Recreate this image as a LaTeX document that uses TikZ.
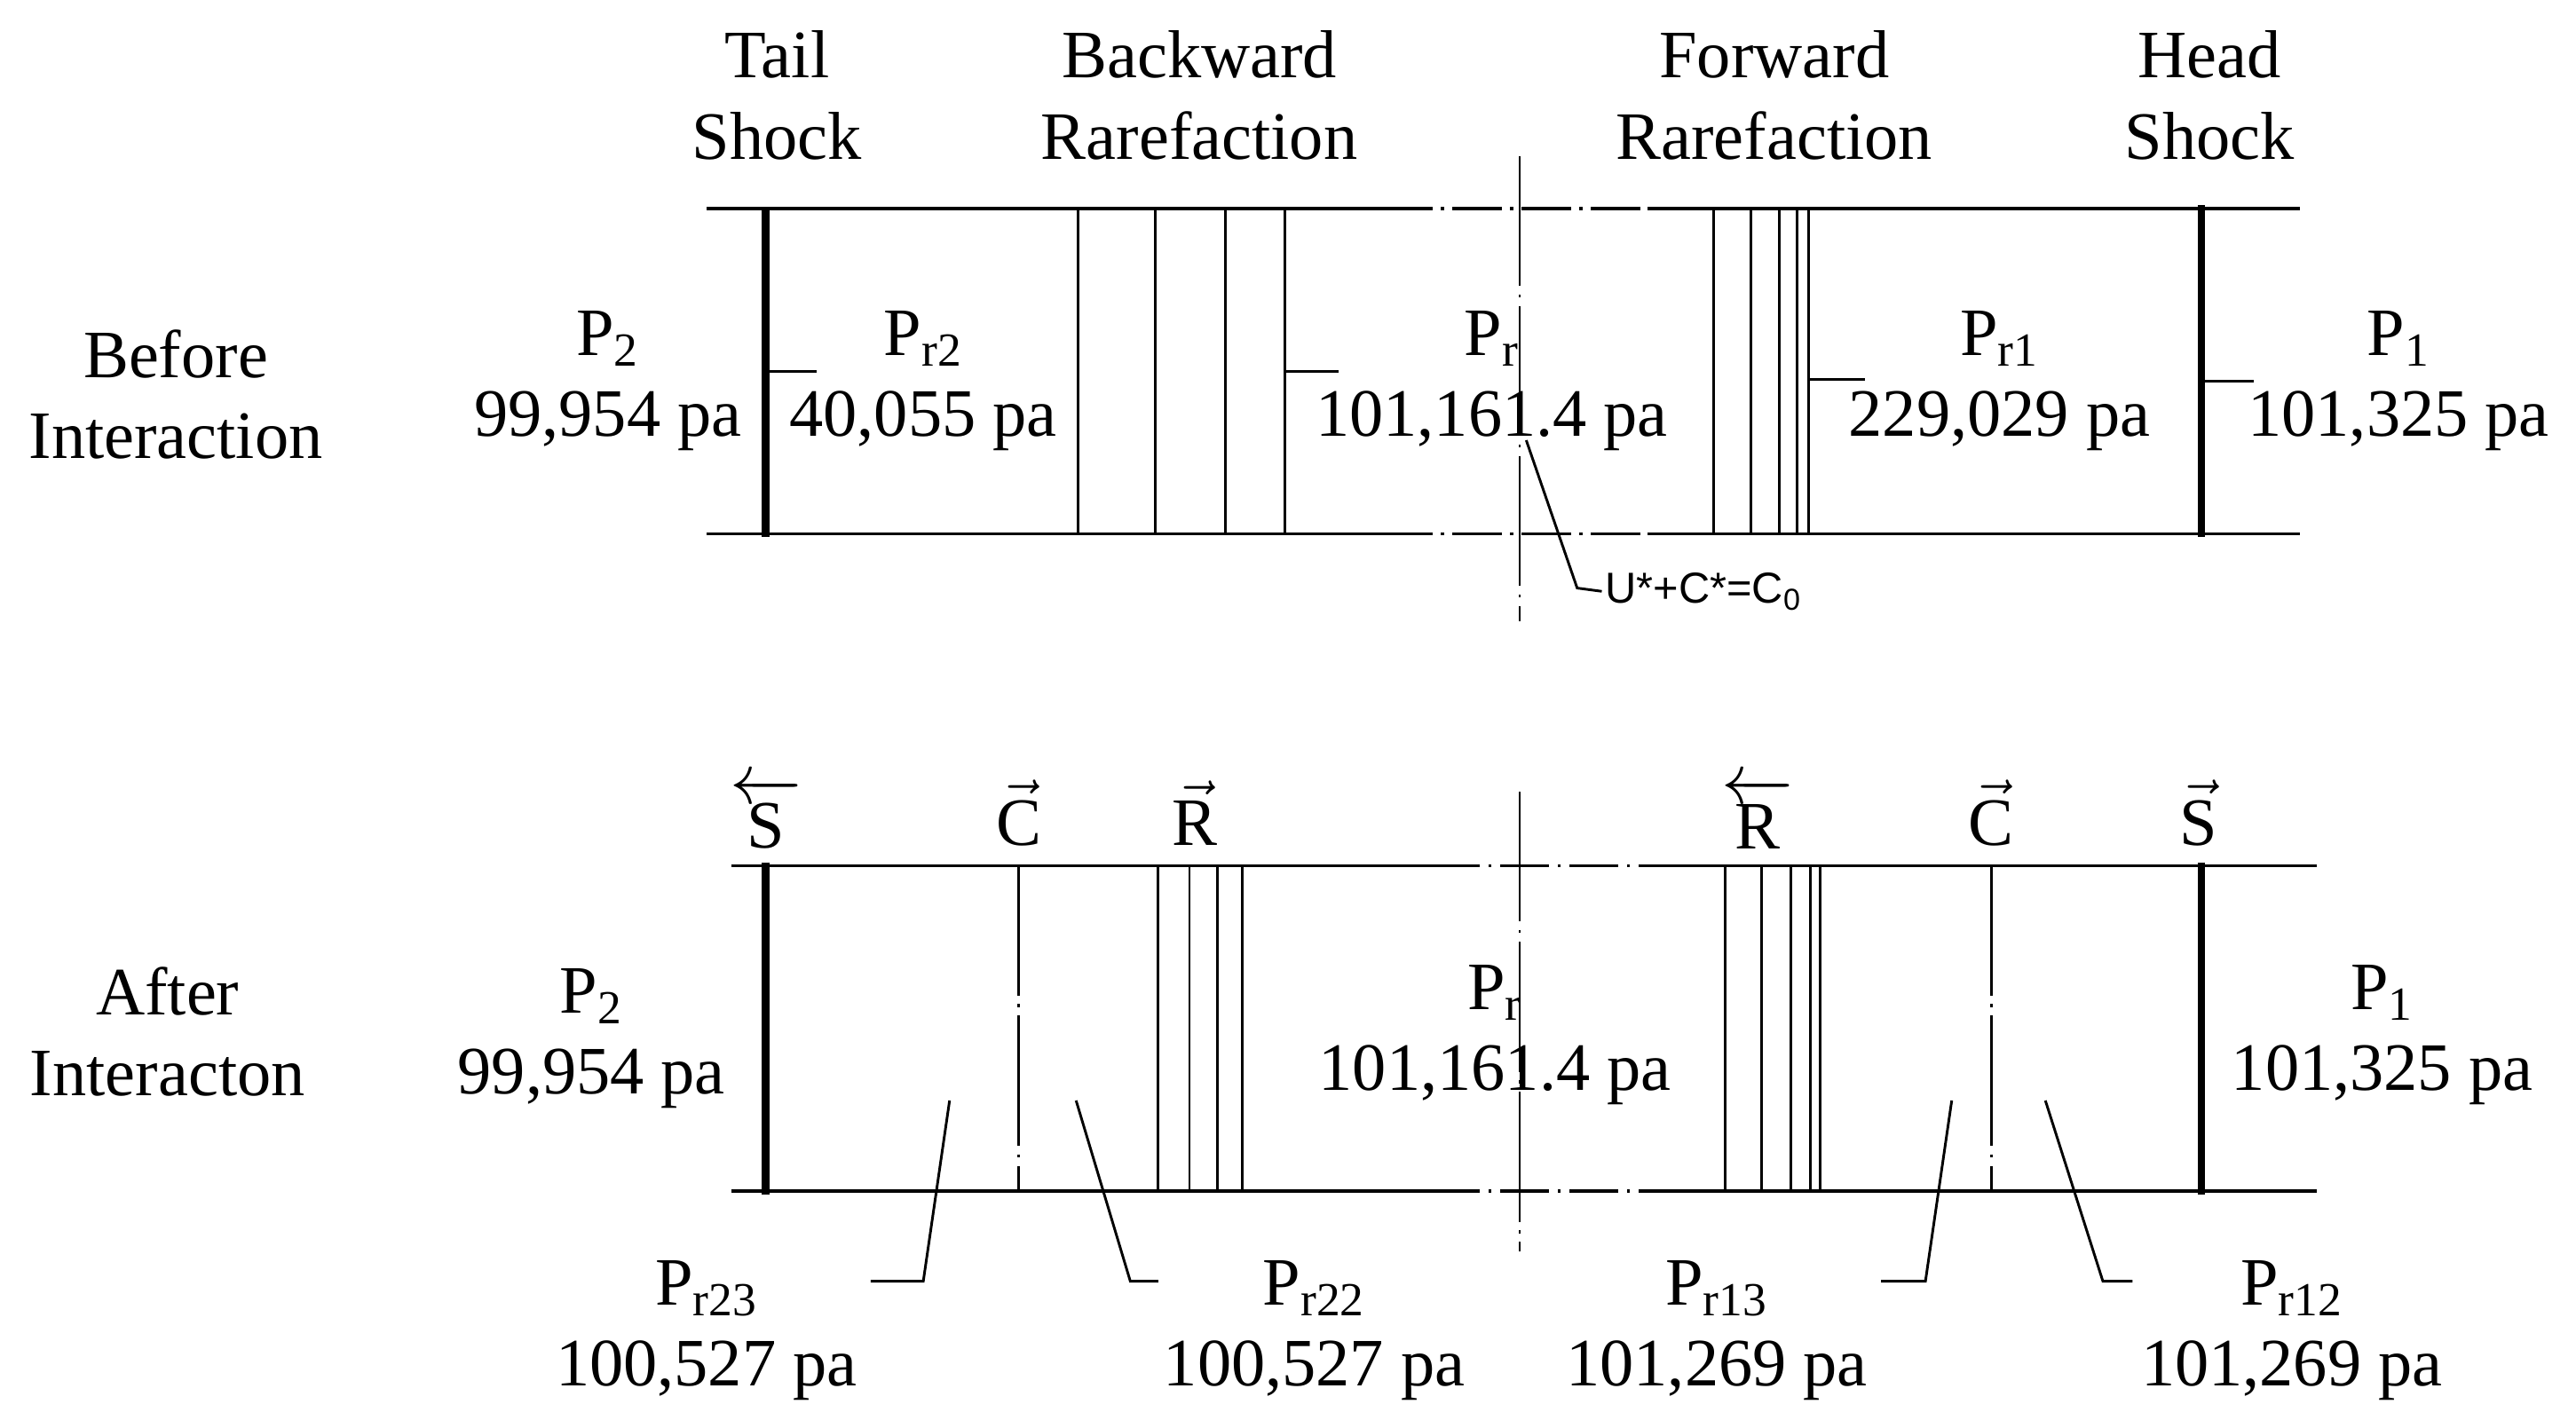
\documentclass[tikz,border=0pt]{standalone}
\usepackage{fontspec}
\setmainfont{Liberation Serif}
\setsansfont{Liberation Sans}
\usepackage{amsmath}
\begin{document}
\begin{tikzpicture}[x=0.02cm,y=-0.02cm,
  lbl/.style={font=\fontsize{23.5}{28}\selectfont,align=center,inner sep=0pt},
  sym/.style={font=\fontsize{23.5}{28}\selectfont,inner sep=0pt},
  thin/.style={line width=0.9pt},
  thick2/.style={line width=2.6pt},
  hl/.style={line width=1.1pt},
  dd/.style={line width=1.1pt,dash pattern=on 17pt off 3pt on 1pt off 3pt},
  cl/.style={line width=0.9pt,dash pattern=on 45pt off 3pt on 1pt off 3pt}]
\useasboundingbox (0,0) rectangle (1568,869);
% ---------- top panel
\draw[hl] (430,127) -- (842,127); \draw[dd] (842,127) -- (1003,127); \draw[hl] (1003,127) -- (1400,127);
\draw[hl] (430,325) -- (842,325); \draw[dd] (842,325) -- (1003,325); \draw[hl] (1003,325) -- (1400,325);
\draw[thick2] (466,127) -- (466,327);
\draw[thick2] (1340,125) -- (1340,327);
\foreach \x in {656,703,746,782} \draw[thin] (\x,127) -- (\x,325);
\foreach \x in {1043,1066,1083,1094,1101} \draw[thin] (\x,127) -- (\x,325);
\draw[thin] (466,226) -- (497,226);
\draw[thin] (782,226) -- (815,226);
\draw[thin] (1101,231) -- (1135,231);
\draw[thin] (1340,232) -- (1372,232);
\draw[cl] (925,95) -- (925,378);
\coordinate (ua) at (929,268); \coordinate (ub) at (960,358);
\node[anchor=west,font=\sffamily\fontsize{15}{17}\selectfont,inner sep=1pt] (uc) at (975,360) {U*+C*=C\textsubscript{0}};
\draw[thin] (ua) -- (ub) -- (uc.west);
\node[lbl] (t1) at (473,58) {Tail\\Shock};
\node[lbl] (t2) at (730,58) {Backward\\Rarefaction};
\node[lbl] (t3) at (1080,58) {Forward\\Rarefaction};
\node[lbl] (t4) at (1345,58) {Head\\Shock};
\node[lbl] (bi) at (107,240) {Before\\Interaction};
\node[lbl] (a1) at (370,232) {P\textsubscript{2}\\99,954 pa};
\node[lbl] (a2) at (562,232) {P\textsubscript{r2}\\40,055 pa};
\node[lbl] (a3) at (908,232) {P\textsubscript{r}\\101,161.4 pa};
\node[lbl] (a4) at (1217,232) {P\textsubscript{r1}\\229,029 pa};
\node[lbl] (a5) at (1460,232) {P\textsubscript{1}\\101,325 pa};
% ---------- bottom panel
\draw[hl] (445,527) -- (871,527); \draw[dd] (871,527) -- (1008,527); \draw[hl] (1008,527) -- (1410,527);
\draw[hl] (445,725) -- (871,725); \draw[dd] (871,725) -- (1008,725); \draw[hl] (1008,725) -- (1410,725);
\draw[thick2] (466,525) -- (466,727);
\draw[thick2] (1340,525) -- (1340,727);
\draw[cl] (620,527) -- (620,725);
\draw[cl] (1212,527) -- (1212,725);
\foreach \x in {705,724,741,756} \draw[thin] (\x,527) -- (\x,725);
\foreach \x in {1050,1072,1090,1102,1108} \draw[thin] (\x,527) -- (\x,725);
\draw[cl] (925,482) -- (925,762);
\node[lbl] (ai) at (102,628) {After\\Interacton};
\node[sym] (s1) at (466,495) {$\overleftarrow{\text{S}}$};
\node[sym] (s2) at (620,495) {$\vec{\text{C}}$};
\node[sym] (s3) at (727,495) {$\vec{\text{R}}$};
\node[sym] (s4) at (1070,495) {$\overleftarrow{\text{R}}$};
\node[sym] (s5) at (1212,495) {$\vec{\text{C}}$};
\node[sym] (s6) at (1338,495) {$\vec{\text{S}}$};
\node[lbl] (b1) at (360,632) {P\textsubscript{2}\\99,954 pa};
\node[lbl] (b2) at (910,630) {P\textsubscript{r}\\101,161.4 pa};
\node[lbl] (b3) at (1450,630) {P\textsubscript{1}\\101,325 pa};
\node[lbl] (c1) at (430,810) {P\textsubscript{r23}\\100,527 pa};
\node[lbl] (c2) at (800,810) {P\textsubscript{r22}\\100,527 pa};
\node[lbl] (c3) at (1045,810) {P\textsubscript{r13}\\101,269 pa};
\node[lbl] (c4) at (1395,810) {P\textsubscript{r12}\\101,269 pa};
\draw[thin] (578,670) -- (562,780) -- (530,780);
\draw[thin] (655,670) -- (688,780) -- (705,780);
\draw[thin] (1188,670) -- (1172,780) -- (1145,780);
\draw[thin] (1245,670) -- (1280,780) -- (1298,780);
\end{tikzpicture}
\end{document}
